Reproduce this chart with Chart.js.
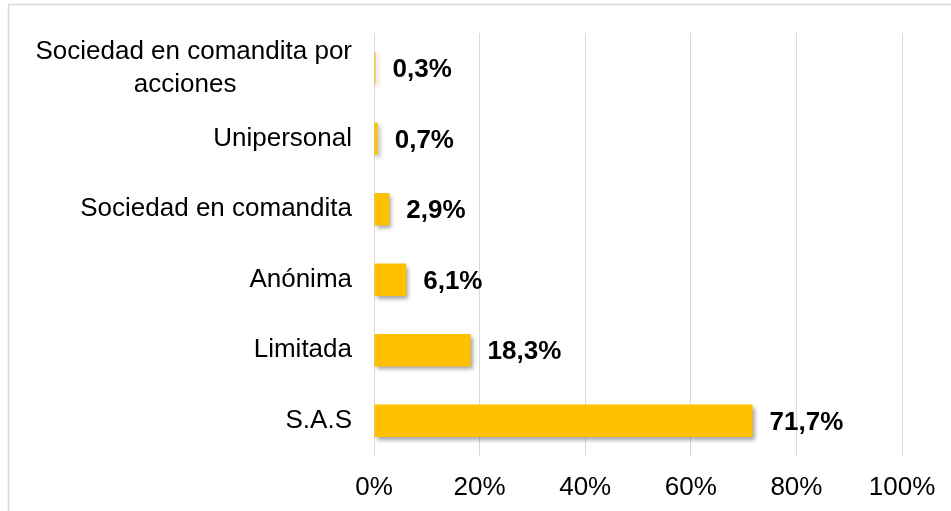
<!DOCTYPE html>
<html>
<head>
<meta charset="utf-8">
<script src="https://cdn.jsdelivr.net/npm/chart.js@4"></script>
<style>
  body { margin: 0; background: #fff; }
  canvas { display: block; }
</style>
</head>
<body>
<canvas id="graficoSociedades" width="951" height="511"></canvas>
<script>
const categorias = [
    ["Sociedad en comandita por", "acciones                "],
    "Unipersonal",
    "Sociedad en comandita",
    "Anónima",
    "Limitada",
    "S.A.S"
];
const porcentajes = [0.3, 0.7, 2.9, 6.1, 18.3, 71.7];
const ticksX = [0, 20, 40, 60, 80, 100];

const fuente = '"Liberation Sans", Arial, sans-serif';

// marco gris alrededor del gráfico
const marco = {
    id: 'marco',
    beforeDraw(chart) {
        const c = chart.ctx;
        c.save();
        c.strokeStyle = '#d9d9d9';
        c.lineWidth = 1.5;
        c.strokeRect(8.5, 4.5, 960, 520);
        c.restore();
    }
};

// sombra suave bajo las barras
const sombra = {
    id: 'sombra',
    beforeDatasetDraw(chart) {
        const c = chart.ctx;
        c.save();
        c.shadowColor = 'rgba(0,0,0,0.35)';
        c.shadowBlur = 4;
        c.shadowOffsetX = 2;
        c.shadowOffsetY = 3;
    },
    afterDatasetDraw(chart) {
        chart.ctx.restore();
    }
};

// etiquetas de valor a la derecha de cada barra
const etiquetas = {
    id: 'etiquetas',
    afterDatasetsDraw(chart) {
        const c = chart.ctx;
        const meta = chart.getDatasetMeta(0);
        c.save();
        c.font = 'bold 26px ' + fuente;
        c.fillStyle = '#000';
        c.textAlign = 'left';
        c.textBaseline = 'middle';
        meta.data.forEach((barra, i) => {
            const txt = porcentajes[i].toFixed(1).replace('.', ',') + '%';
            c.fillText(txt, barra.x + 17, barra.y + 2);
        });
        c.restore();
    }
};

const ctx = document.getElementById('graficoSociedades').getContext('2d');
const grafico = new Chart(ctx, {
    type: 'bar',
    data: {
        labels: categorias,
        datasets: [{
            data: porcentajes,
            backgroundColor: '#FFC000',
            borderWidth: 0,
            barPercentage: 0.46,
            categoryPercentage: 1
        }]
    },
    plugins: [marco, sombra, etiquetas],
    options: {
        indexAxis: 'y',
        responsive: false,
        animation: false,
        layout: {
            padding: { top: 33, right: 49, bottom: 0, left: 0 }
        },
        plugins: {
            legend: { display: false },
            tooltip: { enabled: false }
        },
        scales: {
            x: {
                min: 0,
                max: 100,
                afterBuildTicks(scale) {
                    scale.ticks = ticksX.map(v => ({ value: v }));
                },
                afterFit(scale) {
                    scale.height = 55;
                    scale.paddingLeft = 0;
                    scale.paddingRight = 0;
                },
                grid: { color: '#d9d9d9', lineWidth: 1, drawTicks: false },
                border: { display: false },
                ticks: {
                    padding: 16,
                    color: '#000',
                    font: { family: fuente, size: 26 },
                    callback: v => v + '%'
                }
            },
            y: {
                afterFit(scale) {
                    scale.width = 374;
                    scale.paddingTop = 0;
                    scale.paddingBottom = 0;
                },
                grid: { display: false, drawTicks: false },
                border: { display: false },
                ticks: {
                    padding: 22,
                    color: '#000',
                    font: { family: fuente, size: 26, lineHeight: 1.28 }
                }
            }
        }
    }
});
</script>
</body>
</html>
